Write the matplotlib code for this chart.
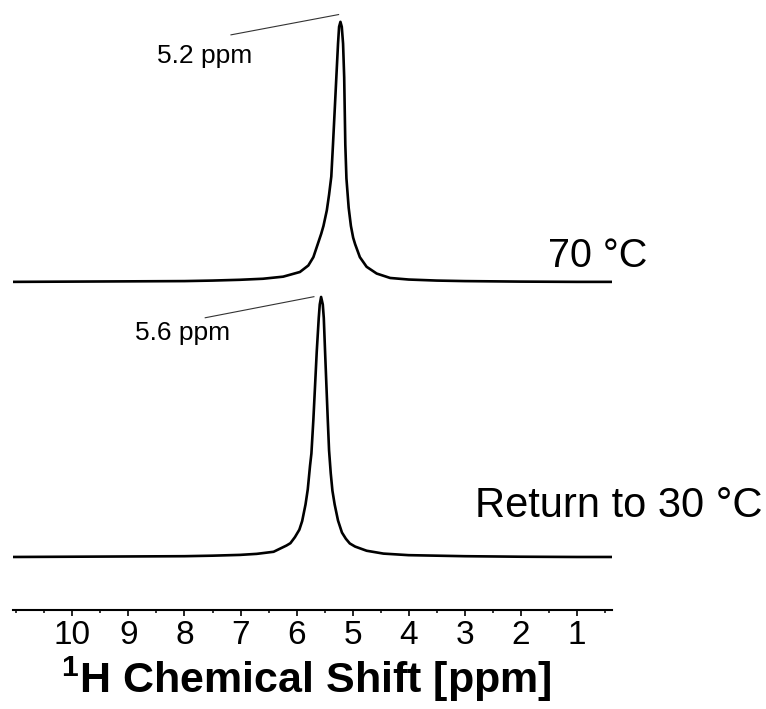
import matplotlib.pyplot as plt
from matplotlib.ticker import MultipleLocator

plt.rcParams['font.family'] = ['Liberation Sans', 'DejaVu Sans']
plt.rcParams['mathtext.fontset'] = 'custom'
plt.rcParams['mathtext.bf'] = 'Liberation Sans:bold'
plt.rcParams['mathtext.rm'] = 'Liberation Sans'

# 1H spectra, intensity normalised to the main peak (%)
ppm_70 = [11.06, 10.0, 9.0, 8.0, 7.5, 7.01, 6.6, 6.24, 5.94, 5.79, 5.70,
          5.63, 5.56, 5.52, 5.46, 5.42, 5.38, 5.35, 5.32, 5.29, 5.26, 5.241,
          5.217, 5.193, 5.17, 5.15, 5.14, 5.13, 5.11, 5.07, 5.03, 4.99,
          4.955, 4.87, 4.75, 4.57, 4.33, 4.0, 3.5, 3.0, 2.0, 1.0, 0.37]
int_70 = [0.0, 0.1, 0.2, 0.3, 0.5, 0.8, 1.2, 2.0, 3.8, 6.3, 9.5,
          14.0, 18.5, 21.5, 27.5, 33.5, 40.5, 52.8, 65.7, 78.7, 91.6, 98.1,
          100.0, 98.1, 91.6, 78.7, 65.7, 52.8, 39.8, 28.5, 21.5, 17.0,
          14.5, 9.5, 5.8, 3.2, 1.5, 0.9, 0.5, 0.3, 0.1, 0.0, 0.0]

ppm_30 = [11.06, 10.0, 9.0, 8.0, 7.5, 7.01, 6.71, 6.41, 6.18, 6.11, 6.03,
          5.95, 5.90, 5.84, 5.80, 5.76, 5.735, 5.70, 5.67, 5.64, 5.604,
          5.586, 5.562, 5.532, 5.514, 5.491, 5.467, 5.443, 5.42, 5.39, 5.36,
          5.32, 5.26, 5.19, 5.12, 5.05, 4.955, 4.75, 4.45, 4.0, 3.0, 2.0,
          1.0, 0.37]
int_30 = [0.0, 0.1, 0.2, 0.3, 0.5, 0.8, 1.2, 2.0, 4.4, 5.3, 7.6,
          10.5, 13.8, 20.2, 26.0, 35.0, 39.8, 52.8, 65.8, 78.9, 91.9,
          97.1, 100.0, 97.1, 91.9, 78.9, 65.8, 52.8, 41.0, 32.2, 25.5,
          20.2, 14.0, 9.4, 7.0, 5.2, 4.0, 2.4, 1.3, 0.7, 0.3, 0.1,
          0.0, 0.0]

peak_70 = 5.2
peak_30 = 5.6
major_ticks = [10, 9, 8, 7, 6, 5, 4, 3, 2, 1]

offset_70 = 105.8

fig = plt.figure(figsize=(7.66, 7.09), dpi=100)
ax = fig.add_axes([0.017, 0.1396, 0.782, 0.8604])

ax.plot(ppm_70, [v + offset_70 for v in int_70], color='black', lw=1.9,
        solid_joinstyle='round')
ax.plot(ppm_30, int_30, color='black', lw=1.9, solid_joinstyle='round')

ax.set_xlim(11.06, 0.37)
ax.set_ylim(-20.4, 214.2)

# peak annotations
ax.plot([7.17, 5.25], [200.8, 208.6], color='#333333', lw=0.8)
ax.text(8.49, 190.0, f'{peak_70} ppm', fontsize=19, ha='left', va='baseline')
ax.plot([7.63, 5.69], [92.0, 100.1], color='#333333', lw=0.8)
ax.text(8.88, 83.4, f'{peak_30} ppm', fontsize=19, ha='left', va='baseline')

ax.text(1.51, 111.5, '70 °C', fontsize=28.5, ha='left', va='baseline')
ax.text(2.81, 15.4, 'Return to 30 °C', fontsize=30, ha='left', va='baseline')

for side in ['left', 'right', 'top']:
    ax.spines[side].set_visible(False)
ax.spines['bottom'].set_linewidth(1.5)
ax.set_yticks([])
ax.set_xticks(major_ticks)
ax.set_xticklabels([str(t) for t in major_ticks])
ax.xaxis.set_minor_locator(MultipleLocator(0.5))
ax.tick_params(axis='x', which='major', direction='out', length=4, width=1.2,
               labelsize=24, pad=3)
ax.tick_params(axis='x', which='minor', direction='out', length=2.5, width=1.1)

fig.text(0.7206, 0.022, r'$\mathbf{^{1}}$H Chemical Shift [ppm]',
         fontsize=31, fontweight='bold', ha='right', va='baseline')

fig.savefig('out.png', dpi=100)
